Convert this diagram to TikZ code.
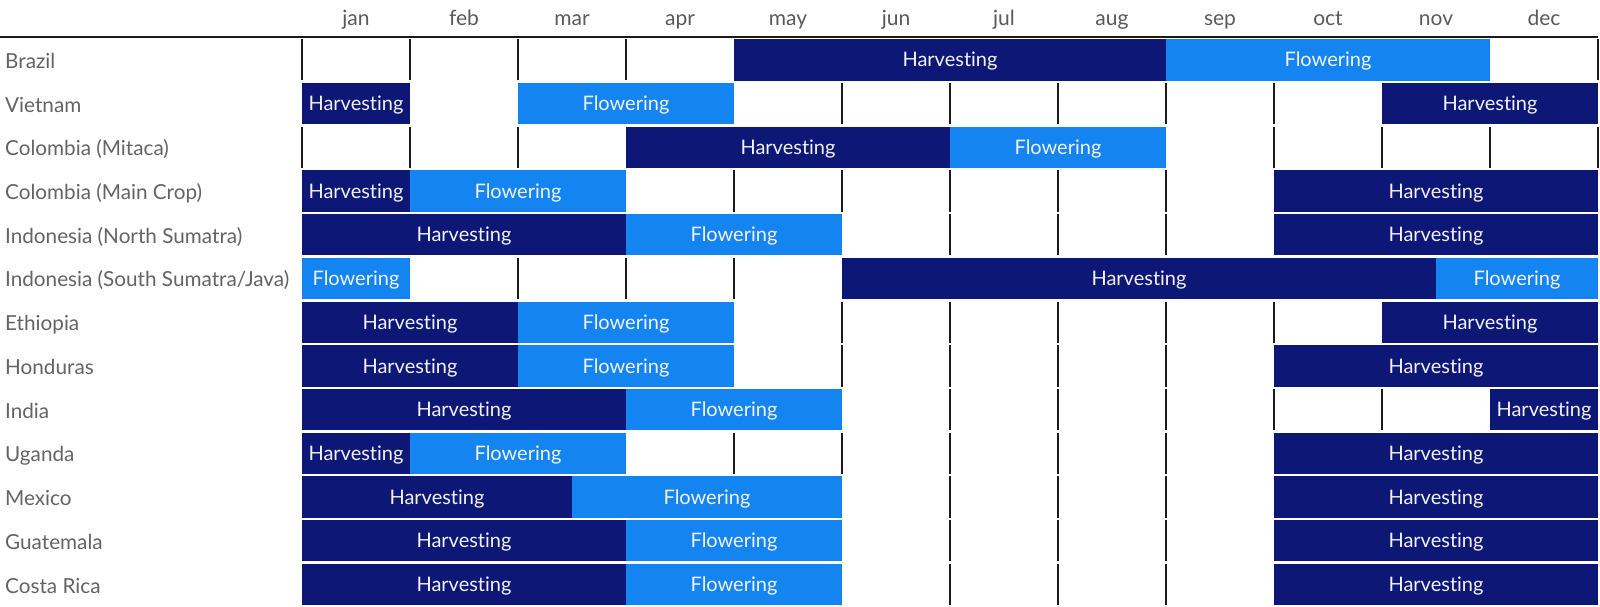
\documentclass[tikz,border=0pt]{standalone}
\usepackage{fontspec}
\setmainfont{Lato}[Ligatures=NoCommon]
\definecolor{harv}{HTML}{0D1776}
\definecolor{flow}{HTML}{1485F0}
\definecolor{lbl}{HTML}{646464}
\definecolor{mon}{HTML}{5A5A5A}
\definecolor{gridc}{HTML}{1A1A1A}
\definecolor{bartext}{HTML}{F2F2F7}
\tikzset{
  cell/.style={inner sep=0pt, outer sep=0pt, text=bartext, font=\fontsize{20}{24}\selectfont, text height=14.2pt, text depth=0pt},
  harvbar/.style={cell, fill=harv},
  flowbar/.style={cell, fill=flow},
  rowlabel/.style={anchor=base west, inner sep=0pt, text=lbl, font=\fontsize{20.7}{24}\selectfont},
  monthlabel/.style={anchor=base, inner sep=0pt, text=mon, font=\fontsize{21}{24}\selectfont},
  vline/.style={draw=gridc, line width=1.3pt},
  headline/.style={draw=gridc, line width=2pt}
}
\newcommand\cropbar[6]{%
  \pgfmathsetmacro\bxa{302+108*#3}%
  \pgfmathsetmacro\bxw{108*(#4-#3)}%
  \pgfmathsetmacro\bxc{\bxa+\bxw/2}%
  \pgfmathsetmacro\byc{38+43.72*#2+21.86}%
  \node[#5, minimum width=\bxw pt, minimum height=41.3pt] (#1) at (\bxc,\byc) {#6};%
}
\newcommand\gridlines[2]{%
  \foreach \k in {#2} {%
    \pgfmathsetmacro\gx{302+108*\k}%
    \pgfmathsetmacro\gya{38+43.72*#1+1.2}%
    \pgfmathsetmacro\gyb{38+43.72*#1+42.5}%
    \draw[vline] (\gx,\gya) -- (\gx,\gyb);%
  }%
}
\newcommand\rowname[3]{%
  \pgfmathsetmacro\ly{38+43.72*#2+21.86+8.5}%
  \node[rowlabel] (#1) at (5,\ly) {#3};%
}
\begin{document}
\begin{tikzpicture}[x=1pt,y=-1pt]
\useasboundingbox (0,0) rectangle (1600,607);
\fill[white] (0,0) rectangle (1600,607);
% months
\foreach \m [count=\i from 0] in {jan,feb,mar,apr,may,jun,jul,aug,sep,oct,nov,dec} {
  \pgfmathsetmacro\mx{356+108*\i}
  \node[monthlabel] (month\i) at (\mx,26) {\m};
}
\draw[headline] (0,37.5) -- (1598,37.5);
% row labels
\rowname{l0}{0}{Brazil}
\rowname{l1}{1}{Vietnam}
\rowname{l2}{2}{Colombia (Mitaca)}
\rowname{l3}{3}{Colombia (Main Crop)}
\rowname{l4}{4}{Indonesia (North Sumatra)}
\rowname{l5}{5}{Indonesia (South Sumatra/Java)}
\rowname{l6}{6}{Ethiopia}
\rowname{l7}{7}{Honduras}
\rowname{l8}{8}{India}
\rowname{l9}{9}{Uganda}
\rowname{l10}{10}{Mexico}
\rowname{l11}{11}{Guatemala}
\rowname{l12}{12}{Costa Rica}
% grid lines in empty cells
\gridlines{0}{0,1,2,3,12}
\gridlines{1}{5,6,7,8,9}
\gridlines{2}{0,1,2,9,10,11,12}
\gridlines{3}{4,5,6,7,8}
\gridlines{4}{6,7,8}
\gridlines{5}{2,3,4}
\gridlines{6}{5,6,7,8,9}
\gridlines{7}{5,6,7,8}
\gridlines{8}{6,7,8,9,10}
\gridlines{9}{4,5,6,7,8}
\gridlines{10}{6,7,8}
\gridlines{11}{6,7,8}
\gridlines{12}{6,7,8}
% bars
\cropbar{b0h}{0}{4}{8}{harvbar}{Harvesting}
\cropbar{b0f}{0}{8}{11}{flowbar}{Flowering}
\cropbar{b1h}{1}{0}{1}{harvbar}{Harvesting}
\cropbar{b1f}{1}{2}{4}{flowbar}{Flowering}
\cropbar{b1g}{1}{10}{12}{harvbar}{Harvesting}
\cropbar{b2h}{2}{3}{6}{harvbar}{Harvesting}
\cropbar{b2f}{2}{6}{8}{flowbar}{Flowering}
\cropbar{b3h}{3}{0}{1}{harvbar}{Harvesting}
\cropbar{b3f}{3}{1}{3}{flowbar}{Flowering}
\cropbar{b3g}{3}{9}{12}{harvbar}{Harvesting}
\cropbar{b4h}{4}{0}{3}{harvbar}{Harvesting}
\cropbar{b4f}{4}{3}{5}{flowbar}{Flowering}
\cropbar{b4g}{4}{9}{12}{harvbar}{Harvesting}
\cropbar{b5f}{5}{0}{1}{flowbar}{Flowering}
\cropbar{b5h}{5}{5}{10.5}{harvbar}{Harvesting}
\cropbar{b5g}{5}{10.5}{12}{flowbar}{Flowering}
\cropbar{b6h}{6}{0}{2}{harvbar}{Harvesting}
\cropbar{b6f}{6}{2}{4}{flowbar}{Flowering}
\cropbar{b6g}{6}{10}{12}{harvbar}{Harvesting}
\cropbar{b7h}{7}{0}{2}{harvbar}{Harvesting}
\cropbar{b7f}{7}{2}{4}{flowbar}{Flowering}
\cropbar{b7g}{7}{9}{12}{harvbar}{Harvesting}
\cropbar{b8h}{8}{0}{3}{harvbar}{Harvesting}
\cropbar{b8f}{8}{3}{5}{flowbar}{Flowering}
\cropbar{b8g}{8}{11}{12}{harvbar}{Harvesting}
\cropbar{b9h}{9}{0}{1}{harvbar}{Harvesting}
\cropbar{b9f}{9}{1}{3}{flowbar}{Flowering}
\cropbar{b9g}{9}{9}{12}{harvbar}{Harvesting}
\cropbar{b10h}{10}{0}{2.5}{harvbar}{Harvesting}
\cropbar{b10f}{10}{2.5}{5}{flowbar}{Flowering}
\cropbar{b10g}{10}{9}{12}{harvbar}{Harvesting}
\cropbar{b11h}{11}{0}{3}{harvbar}{Harvesting}
\cropbar{b11f}{11}{3}{5}{flowbar}{Flowering}
\cropbar{b11g}{11}{9}{12}{harvbar}{Harvesting}
\cropbar{b12h}{12}{0}{3}{harvbar}{Harvesting}
\cropbar{b12f}{12}{3}{5}{flowbar}{Flowering}
\cropbar{b12g}{12}{9}{12}{harvbar}{Harvesting}
\end{tikzpicture}
\end{document}
